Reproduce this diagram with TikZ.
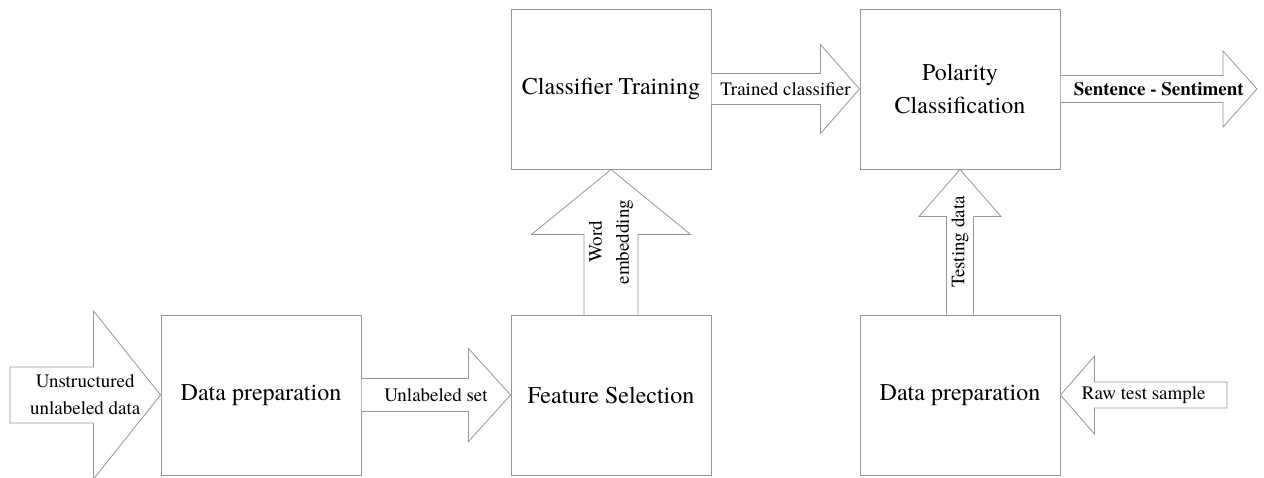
\documentclass[tikz,border=0pt]{standalone}
\usepackage{fontspec}
\setmainfont{texgyretermes}[Extension=.otf, UprightFont=*-regular, BoldFont=*-bold,
  ItalicFont=*-italic, BoldItalicFont=*-bolditalic]
\usetikzlibrary{calc}
\definecolor{linegray}{RGB}{150,150,150}
\begin{document}
\begin{tikzpicture}[x=1pt,y=-1pt,
  box/.style={draw=linegray, line width=1pt, minimum width=200pt, minimum height=160pt,
    inner sep=0pt, align=center, font=\fontsize{24}{33}\selectfont},
  blk/.style={draw=linegray, fill=white, line width=0.8pt, line join=miter},
  lbl/.style={align=center, inner sep=0pt, font=\fontsize{19}{27}\selectfont}]
\useasboundingbox (0,0) rectangle (1264,477);

% process blocks
\node[box] (prepA) at (261,395) {Data preparation};
\node[box] (feat)  at (611,395) {Feature Selection};
\node[box] (train) at (611,89)  {Classifier Training};
\node[box] (polar) at (960,89)  {Polarity\\Classification};
\node[box] (prepB) at (960,395) {Data preparation};

% free ends of the outer arrows
\coordinate (inL)  at (10,395);
\coordinate (inR)  at (1227,395);
\coordinate (outR) at (1257,89);

% raw input -> data preparation
\draw[blk] ($(inL)+(0,-28)$) -- ($(prepA.west)+(-67,-28)$) -- ($(prepA.west)+(-67,-84)$)
  -- (prepA.west) -- ($(prepA.west)+(-67,84)$) -- ($(prepA.west)+(-67,28)$)
  -- ($(inL)+(0,28)$) -- cycle;
\node[lbl] (tIn) at ($(inL)!0.5!(prepA.west)$) {Unstructured\\unlabeled data};

% data preparation -> feature selection
\draw[blk] ($(prepA.east)+(0,-16.5)$) -- ($(feat.west)+(-42,-16.5)$) -- ($(feat.west)+(-42,-46.5)$)
  -- (feat.west) -- ($(feat.west)+(-42,46.5)$) -- ($(feat.west)+(-42,16.5)$)
  -- ($(prepA.east)+(0,16.5)$);
\node[lbl] (tUnl) at ($(prepA.east)!0.5!(feat.west)$) {Unlabeled set};

% feature selection -> classifier training
\draw[blk] ($(feat.north)+(-27,0)$) -- ($(train.south)+(-27,65)$) -- ($(train.south)+(-79.5,65)$)
  -- (train.south) -- ($(train.south)+(79.5,65)$) -- ($(train.south)+(27,65)$)
  -- ($(feat.north)+(27,0)$);
\node[lbl, rotate=90] (tWe) at ($(feat.north)!0.5!(train.south)$) {Word\\embedding};

% classifier training -> polarity classification
\draw[blk] ($(train.east)+(0,-15.5)$) -- ($(polar.west)+(-39,-15.5)$) -- ($(polar.west)+(-39,-44.5)$)
  -- (polar.west) -- ($(polar.west)+(-39,44.5)$) -- ($(polar.west)+(-39,15.5)$)
  -- ($(train.east)+(0,15.5)$);
\node[lbl] (tTr) at ($(train.east)!0.5!(polar.west)$) {Trained classifier};

% polarity classification -> output
\draw[blk] ($(polar.east)+(0,-13.5)$) -- ($(outR)+(-34,-13.5)$) -- ($(outR)+(-34,-38)$)
  -- (outR) -- ($(outR)+(-34,38)$) -- ($(outR)+(-34,13.5)$)
  -- ($(polar.east)+(0,13.5)$);
\node[lbl] (tOut) at ($(polar.east)!0.5!(outR)$) {\textbf{Sentence - Sentiment}};

% test data preparation -> polarity classification
\draw[blk] ($(prepB.north)+(-13.5,0)$) -- ($(polar.south)+(-13.5,47)$) -- ($(polar.south)+(-41,47)$)
  -- (polar.south) -- ($(polar.south)+(41,47)$) -- ($(polar.south)+(13.5,47)$)
  -- ($(prepB.north)+(13.5,0)$);
\node[lbl, rotate=90] (tTest) at ($(prepB.north)!0.5!(polar.south)$) {Testing data};

% raw test sample -> test data preparation
\draw[blk] ($(inR)+(0,-13)$) -- ($(prepB.east)+(34,-13)$) -- ($(prepB.east)+(34,-39)$)
  -- (prepB.east) -- ($(prepB.east)+(34,39)$) -- ($(prepB.east)+(34,13)$)
  -- ($(inR)+(0,13)$) -- cycle;
\node[lbl] (tRaw) at ($(prepB.east)!0.5!(inR)$) {Raw test sample};
\end{tikzpicture}
\end{document}
